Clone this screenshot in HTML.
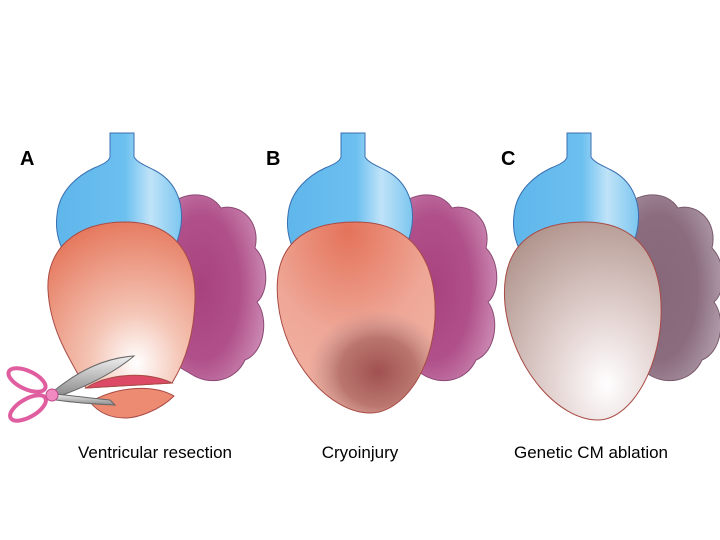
<!DOCTYPE html>
<html><head><meta charset="utf-8"><style>
html,body{margin:0;padding:0;background:#fff;width:720px;height:540px;overflow:hidden}
text{font-family:"Liberation Sans",sans-serif}
</style></head><body>
<svg width="720" height="540" viewBox="0 0 720 540" xmlns="http://www.w3.org/2000/svg">
<defs>
<linearGradient id="blue" x1="0" y1="0" x2="1" y2="0">
<stop offset="0" stop-color="#5fb6ea"/><stop offset="0.55" stop-color="#6cc0f0"/><stop offset="0.75" stop-color="#bfe3f8"/><stop offset="1" stop-color="#7cc6f0"/></linearGradient>
<radialGradient id="purp" cx="0.35" cy="0.5" r="0.65">
<stop offset="0" stop-color="#a8427e"/><stop offset="0.6" stop-color="#b0508a"/><stop offset="1" stop-color="#c985b0"/></radialGradient>
<radialGradient id="purpC" cx="0.35" cy="0.5" r="0.65">
<stop offset="0" stop-color="#86687a"/><stop offset="0.6" stop-color="#8a6c7e"/><stop offset="1" stop-color="#ad98a6"/></radialGradient>
<radialGradient id="vA" cx="0.6" cy="0.85" r="0.9">
<stop offset="0" stop-color="#ffffff"/><stop offset="0.35" stop-color="#f4c4b4"/><stop offset="1" stop-color="#e5755a"/></radialGradient>
<radialGradient id="vB" cx="0.45" cy="0.05" r="0.9">
<stop offset="0" stop-color="#e4735a"/><stop offset="0.6" stop-color="#efa898"/><stop offset="1" stop-color="#f0b0a0"/></radialGradient>
<radialGradient id="inj" cx="0.5" cy="0.5" r="0.5">
<stop offset="0" stop-color="#a05050"/><stop offset="0.55" stop-color="#b06c66" stop-opacity="0.85"/><stop offset="1" stop-color="#c09090" stop-opacity="0"/></radialGradient>
<radialGradient id="vC" cx="0.65" cy="0.82" r="0.9">
<stop offset="0" stop-color="#ffffff"/><stop offset="0.4" stop-color="#e2d2d0"/><stop offset="1" stop-color="#b0948c"/></radialGradient>
<linearGradient id="blade" x1="0" y1="0" x2="0" y2="1"><stop offset="0" stop-color="#f0f0f0"/><stop offset="1" stop-color="#8a8a8a"/></linearGradient>
<clipPath id="clipB"><path d="M356,222 C418,222 437,268 435,318 C432,372 402,413 370,413 C330,413 284,362 278,302 C272,248 300,222 356,222 Z"/></clipPath>
<g id="bulb"><path d="M341,133 L365,133 L365,157 C368,162 375,165 385,170 C405,180 415,200 412,225 C410,240 405,250 400,258 L298,258 C290,245 286,230 288,215 C290,190 310,175 325,168 C335,164 340,161 341,157 Z" fill="url(#blue)" stroke="#3a6fb0" stroke-width="1"/></g>
<path id="lobes" d="M400,205 C415,192 440,190 452,208 C472,203 492,222 486,248 C500,262 500,292 488,302 C500,318 496,352 476,360 C466,382 440,386 422,374 L398,360 Z"/>
</defs>

<!-- Panel B -->
<use href="#lobes" fill="url(#purp)" stroke="#8c4a74" stroke-width="1"/>
<use href="#bulb"/>
<path d="M356,222 C418,222 437,268 435,318 C432,372 402,413 370,413 C330,413 284,362 278,302 C272,248 300,222 356,222 Z" fill="url(#vB)"/>
<ellipse cx="378" cy="372" rx="70" ry="62" fill="url(#inj)" clip-path="url(#clipB)"/>
<path d="M356,222 C418,222 437,268 435,318 C432,372 402,413 370,413 C330,413 284,362 278,302 C272,248 300,222 356,222 Z" fill="none" stroke="#a84a44" stroke-width="1"/>

<!-- Panel A -->
<g transform="translate(-231,0)">
<use href="#lobes" fill="url(#purp)" stroke="#8c4a74" stroke-width="1"/>
<use href="#bulb"/>
</g>
<path d="M125,222 C180,222 196,262 195,300 C194,335 185,362 172,383 L86,388 C70,360 50,330 48,290 C46,250 75,222 125,222 Z" fill="url(#vA)" stroke="#a84a44" stroke-width="1"/>
<path d="M86,388 C110,372 150,372 172,383 Z" fill="#dc4a66" stroke="#a84a44" stroke-width="1"/>
<path d="M90,402 C120,385 155,385 174,396 C160,410 138,418 125,418 C110,418 98,412 90,402 Z" fill="#ec8a72" stroke="#a84a44" stroke-width="1"/>
<path d="M55,390 C80,370 105,358 134,356 C115,372 90,385 60,396 Z" fill="url(#blade)" stroke="#666" stroke-width="1"/>
<path d="M55,394 C75,396 90,398 110,400 L115,405 C90,404 70,402 56,400 Z" fill="url(#blade)" stroke="#666" stroke-width="1"/>
<ellipse cx="27" cy="380" rx="20" ry="9" transform="rotate(25 27 380)" fill="none" stroke="#e05ea0" stroke-width="4"/>
<ellipse cx="28" cy="408" rx="20" ry="9" transform="rotate(-30 28 408)" fill="none" stroke="#e05ea0" stroke-width="4"/>
<circle cx="52" cy="395" r="6" fill="#f08ac0" stroke="#c04a8a"/>

<!-- Panel C -->
<g transform="translate(226,0)">
<use href="#lobes" fill="url(#purpC)" stroke="#7a5a6c" stroke-width="1"/>
<use href="#bulb"/>
</g>
<path d="M585,222 C645,222 663,268 661,318 C658,375 628,420 598,420 C558,420 512,368 505,305 C500,250 528,222 585,222 Z" fill="url(#vC)" stroke="#a84a44" stroke-width="1"/>

<text x="20" y="165" font-size="20" font-weight="bold">A</text>
<text x="266" y="165" font-size="20" font-weight="bold">B</text>
<text x="501" y="165" font-size="20" font-weight="bold">C</text>
<text x="155" y="458" font-size="17" text-anchor="middle">Ventricular resection</text>
<text x="360" y="458" font-size="17" text-anchor="middle">Cryoinjury</text>
<text x="591" y="458" font-size="17" text-anchor="middle">Genetic CM ablation</text>
</svg>
</body></html>
